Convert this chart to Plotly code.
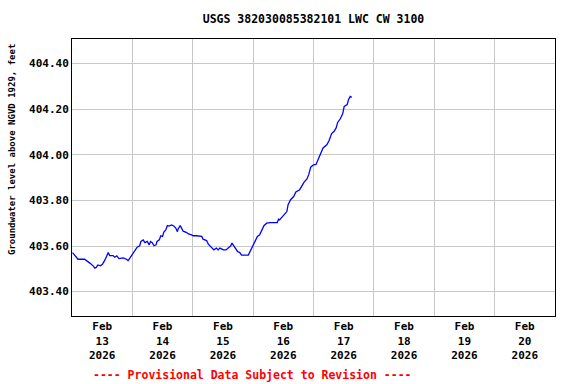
import pandas as pd
import plotly.graph_objects as go

# Hours since 2026-02-13 00:00 and groundwater level (ft)
hours = [0.2, 1.1, 2.4, 5.0, 6.0, 7.1, 8.4, 9.1, 9.7, 10.3, 11.3, 12.1, 13.1, 13.7, 14.4, 15.0,
         16.3, 17.0, 17.8, 18.7, 20.4, 21.6, 22.3, 23.0, 24.0, 25.0, 25.9, 26.9, 27.4, 28.3, 29.0,
         29.9, 30.7, 31.2, 31.9, 32.6, 33.4, 33.8, 34.7, 35.3, 36.0, 36.5, 37.3, 37.9, 38.6, 39.6,
         40.6, 41.3, 41.9, 42.2, 43.0, 43.7, 44.2, 45.6, 46.3, 47.5, 48.2, 49.4, 51.6, 52.1, 53.5,
         54.2, 54.8, 55.9, 56.4, 57.4, 58.1, 58.8, 60.2, 61.2, 62.2, 63.1, 63.6, 64.1, 65.0, 65.8,
         66.7, 67.4, 70.1, 71.0, 71.8, 72.7, 73.7, 74.6, 75.4, 76.3, 77.4, 78.7, 81.6, 82.1, 82.6,
         83.3, 84.2, 85.4, 85.9, 86.9, 88.1, 89.0, 90.5, 91.4, 92.2, 93.4, 94.1, 94.9, 96.0, 97.0,
         97.9, 98.9, 99.8, 101.3, 102.2, 103.2, 104.2, 105.0, 105.6, 106.6, 107.6, 108.2, 109.4,
         109.9, 110.6, 111.2]
levels = [403.571, 403.557, 403.542, 403.542, 403.535, 403.525, 403.513, 403.503, 403.507, 403.517,
          403.513, 403.520, 403.539, 403.554, 403.571, 403.558, 403.558, 403.551, 403.557, 403.545,
          403.548, 403.542, 403.536, 403.547, 403.564, 403.580, 403.595, 403.601, 403.620, 403.627,
          403.615, 403.620, 403.605, 403.620, 403.615, 403.601, 403.605, 403.620, 403.627, 403.645,
          403.642, 403.661, 403.671, 403.690, 403.687, 403.692, 403.687, 403.678, 403.663, 403.675,
          403.690, 403.675, 403.665, 403.659, 403.653, 403.649, 403.645, 403.645, 403.642, 403.630,
          403.624, 403.608, 403.601, 403.591, 403.583, 403.591, 403.583, 403.591, 403.583, 403.583,
          403.591, 403.601, 403.613, 403.605, 403.591, 403.576, 403.571, 403.560, 403.560, 403.580,
          403.598, 403.620, 403.642, 403.649, 403.671, 403.689, 403.700, 403.703, 403.703, 403.718,
          403.715, 403.725, 403.737, 403.751, 403.781, 403.803, 403.817, 403.837, 403.847, 403.864,
          403.879, 403.894, 403.913, 403.946, 403.956, 403.958, 403.981, 404.000, 404.030, 404.044,
          404.063, 404.093, 404.103, 404.118, 404.142, 404.157, 404.180, 404.212, 404.220, 404.242,
          404.256, 404.252]

day_labels = ["Feb<br>13<br>2026", "Feb<br>14<br>2026", "Feb<br>15<br>2026", "Feb<br>16<br>2026",
              "Feb<br>17<br>2026", "Feb<br>18<br>2026", "Feb<br>19<br>2026", "Feb<br>20<br>2026"]
y_ticks = [403.40, 403.60, 403.80, 404.00, 404.20, 404.40]

start = pd.Timestamp("2026-02-13 00:00")
times = [start + pd.Timedelta(hours=h) for h in hours]
noons = [start + pd.Timedelta(days=i, hours=12) for i in range(len(day_labels))]
midnights = [start + pd.Timedelta(days=i) for i in range(1, len(day_labels))]

FONT = "DejaVu Sans Mono"
W, H = 576, 384
L, R, T, B = 72, 21, 39, 68
PW, PH = W - L - R, H - T - B

fig = go.Figure()
fig.add_trace(go.Scatter(x=times, y=levels, mode="lines",
                         line=dict(color="#0000ff", width=1.3), showlegend=False))

fig.update_layout(
    width=W, height=H,
    margin=dict(l=L, r=R, t=T, b=B),
    paper_bgcolor="white", plot_bgcolor="white",
    font=dict(family=FONT, size=11, color="black", weight="bold"),
    title=dict(text="USGS 382030085382101 LWC CW 3100", x=0.5, xanchor="center",
               xref="paper", y=1 - 19 / H, yanchor="middle",
               font=dict(family=FONT, size=11.5, weight="bold")),
    xaxis=dict(type="date", range=[start, start + pd.Timedelta(days=8)],
               tickvals=noons, ticktext=day_labels, showgrid=False, ticks="",
               showline=True, linecolor="black", linewidth=1, mirror=True,
               zeroline=False, tickangle=0,
               minor=dict(tickvals=midnights, showgrid=True, gridcolor="#c8c8c8",
                          gridwidth=1, ticks="")),
    yaxis=dict(range=[403.293, 404.508], tickvals=y_ticks, tickformat=".2f",
               showgrid=True, gridcolor="#c8c8c8", gridwidth=1, ticks="",
               showline=True, linecolor="black", linewidth=1, mirror=True,
               zeroline=False),
)

# Y-axis title (placed like the reference, slightly above the plot centre)
fig.add_annotation(text="Groundwater level above NGVD 1929, feet",
                   xref="paper", yref="paper",
                   x=(12 - L) / PW, y=(T + PH - 150) / PH,
                   xanchor="center", yanchor="middle", textangle=-90, showarrow=False,
                   font=dict(family=FONT, size=9, weight="bold"))

fig.add_annotation(text="---- Provisional Data Subject to Revision ----",
                   xref="paper", yref="paper",
                   x=(252 - L) / PW, y=-(375 - (T + PH)) / PH,
                   xanchor="center", yanchor="middle", showarrow=False,
                   font=dict(family=FONT, size=11.5, color="#ff0000", weight="bold"))

fig.write_html("out.html", config={"displayModeBar": False},
               post_script="document.body.style.margin='0';document.body.style.padding='0';")
